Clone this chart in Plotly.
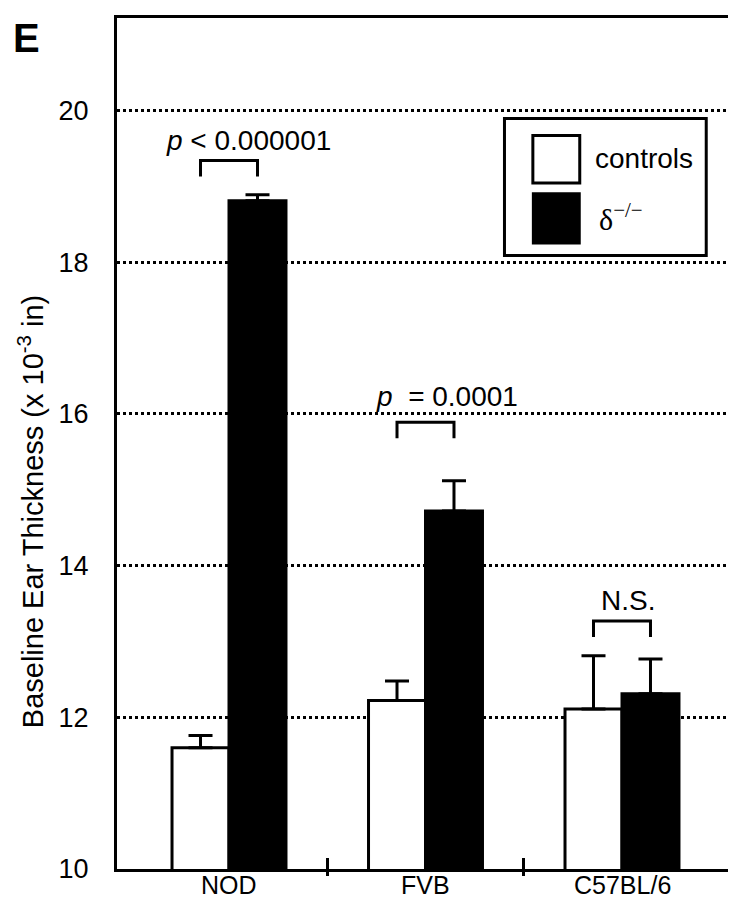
import plotly.graph_objects as go

categories = ["NOD", "FVB", "C57BL/6"]
controls = [11.60, 12.22, 12.11]
controls_err = [0.16, 0.26, 0.70]
knockout = [18.81, 14.72, 12.31]
knockout_err = [0.08, 0.40, 0.46]
y_ticks = [10, 12, 14, 16, 18, 20]
sig_labels = ["<i>p</i> < 0.000001", "<i>p</i>\u00a0\u00a0= 0.0001", "N.S."]
sig_label_y = [19.61, 16.23, 13.54]
sig_label_dx = [0.10, 0.11, 0.03]
bracket_top = [19.34, 15.89, 13.27]
bracket_drop = 0.21

BW = 0.29
FONT = "Liberation Sans, Arial, sans-serif"
xs = list(range(len(categories)))

fig = go.Figure()
fig.add_trace(go.Bar(
    x=[i - BW / 2 for i in xs], y=controls, width=BW, name="controls",
    marker=dict(color="white", line=dict(color="black", width=3)),
    error_y=dict(type="data", array=controls_err, symmetric=False, arrayminus=[0] * 3,
                 color="black", thickness=3, width=12),
    showlegend=False))
fig.add_trace(go.Bar(
    x=[i + BW / 2 for i in xs], y=knockout, width=BW, name="δ−/−",
    marker=dict(color="black", line=dict(color="black", width=3)),
    error_y=dict(type="data", array=knockout_err, symmetric=False, arrayminus=[0] * 3,
                 color="black", thickness=3, width=12),
    showlegend=False))

# significance brackets
for i, top in enumerate(bracket_top):
    xl, xr = i - BW / 2, i + BW / 2
    fig.add_trace(go.Scatter(
        x=[xl, xl, xr, xr], y=[top - bracket_drop, top, top, top - bracket_drop],
        mode="lines", line=dict(color="black", width=3), showlegend=False,
        hoverinfo="skip"))

for i, lab in enumerate(sig_labels):
    fig.add_annotation(x=i + sig_label_dx[i], y=sig_label_y[i], text=lab, showarrow=False,
                       font=dict(family=FONT, size=28, color="black"),
                       xanchor="center", yanchor="middle")

# category labels
for i, c in enumerate(categories):
    fig.add_annotation(x=i, y=0, xref="x", yref="paper", text=c, showarrow=False,
                       yanchor="middle", yshift=-16, borderpad=0,
                       font=dict(family=FONT, size=25, color="black"))

# legend (manual, large swatches)
fig.add_shape(type="rect", xref="paper", yref="paper", x0=0.628, x1=0.955, y0=0.721, y1=0.882,
              line=dict(color="black", width=3), fillcolor="white", layer="above")
fig.add_shape(type="rect", xref="paper", yref="paper", x0=0.674, x1=0.750, y0=0.806, y1=0.862,
              line=dict(color="black", width=3), fillcolor="white", layer="above")
fig.add_shape(type="rect", xref="paper", yref="paper", x0=0.674, x1=0.750, y0=0.735, y1=0.794,
              line=dict(color="black", width=2), fillcolor="black", layer="above")
fig.add_annotation(x=0.772, y=0.835, xref="paper", yref="paper", text="controls",
                   showarrow=False, xanchor="left", yanchor="middle",
                   font=dict(family=FONT, size=28, color="black"))
fig.add_annotation(x=0.778, y=0.766, xref="paper", yref="paper", text="δ<sup>−/−</sup>",
                   showarrow=False, xanchor="left", yanchor="middle",
                   font=dict(family="Liberation Serif, Times New Roman, serif", size=30, color="black"))

# panel letter
fig.add_annotation(x=-0.171, y=1.005, xref="paper", yref="paper", text="<b>E</b>",
                   showarrow=False, xanchor="left", yanchor="top",
                   font=dict(family=FONT, size=40, color="black"))

# y title
fig.add_annotation(x=-0.14, y=0.42, xref="paper", yref="paper",
                   text="Baseline Ear Thickness (x 10<sup>-3</sup> in)",
                   showarrow=False, textangle=-90, xanchor="center", yanchor="middle",
                   font=dict(family=FONT, size=29, color="black"))

fig.update_layout(
    width=736, height=899,
    margin=dict(l=109, r=8, t=7, b=38),
    plot_bgcolor="white", paper_bgcolor="white",
    barmode="overlay",
    xaxis=dict(range=[-0.57, 2.57], tickvals=[0.5, 1.5], ticks="inside", ticklen=11,
               tickwidth=3, tickcolor="black", showticklabels=False, showgrid=False,
               showline=True, linecolor="black", linewidth=3, mirror=True, zeroline=False),
    xaxis2=dict(range=[-0.57, 2.57], overlaying="x", anchor="y", side="bottom",
                tickvals=[0.5, 1.5], ticks="outside", ticklen=6, tickwidth=3,
                tickcolor="black", showticklabels=False, showgrid=False, showline=False,
                zeroline=False),
    yaxis=dict(range=[10, 21.22], tickvals=y_ticks, ticks="", showgrid=True,
               gridcolor="black", griddash="dot", gridwidth=2.5,
               showline=True, linecolor="black", linewidth=3, mirror=True, zeroline=False,
               tickfont=dict(family=FONT, size=27, color="black"), ticklabelstandoff=20),
)
# helper trace so the overlaid tick axis is drawn
fig.add_trace(go.Scatter(x=[0], y=[None], xaxis="x2", showlegend=False, hoverinfo="skip"))

fig.write_html("out.html")
